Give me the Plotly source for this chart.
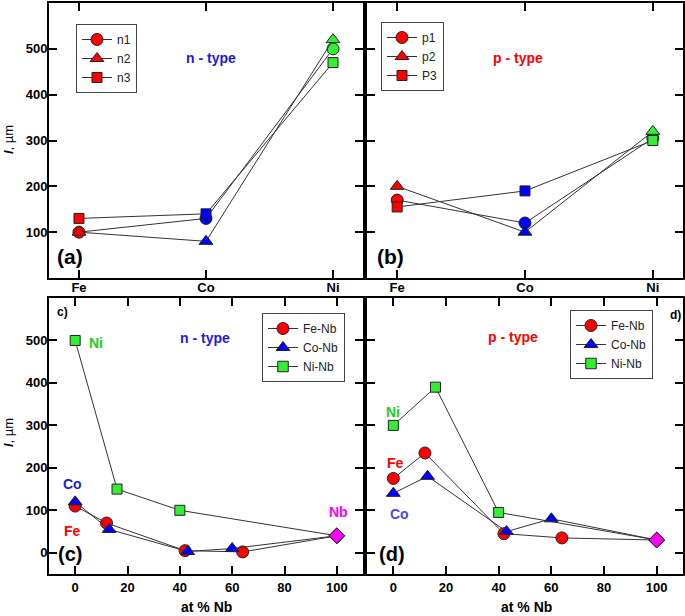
import plotly.graph_objects as go

W, H = 685, 616

RED = "#ff0000"
BLUE = "#0000ff"
GREEN = "#33ee33"
MAGENTA = "#ff00ff"
LINE = "#333333"
FONT = "Liberation Sans, Arial, sans-serif"

# ── Data ──────────────────────────────────────────────────────────────────────
METALS = ["Fe", "Co", "Ni"]
METAL_COLORS = [RED, BLUE, GREEN]

# (a) n-type, l (um) per base metal
N1 = [100, 130, 500]
N2 = [100, 80, 520]
N3 = [130, 140, 470]
# (b) p-type
P1 = [170, 120, 305]
P2 = [200, 100, 320]
P3 = [155, 190, 300]

# (c)/(d) vs at % Nb; every series ends at pure Nb
NB_X = 100
NB_N = 40
NB_P = 30

FE_N_X = [0, 12, 42, 64]
FE_N_Y = [110, 70, 5, 2]
CO_N_X = [0, 13, 43, 60]
CO_N_Y = [120, 55, 3, 10]
NI_N_X = [0, 16, 40]
NI_N_Y = [500, 150, 100]

FE_P_X = [0, 12, 42, 64]
FE_P_Y = [175, 235, 45, 35]
CO_P_X = [0, 13, 43, 60]
CO_P_Y = [140, 180, 50, 80]
NI_P_X = [0, 16, 40]
NI_P_Y = [300, 390, 95]


def px(x):
    return x / W


def py(y):
    return 1 - y / H


def metal_trace(y, name, symbol, size, axis, legend):
    return go.Scatter(
        x=METALS, y=y, name=name, mode="lines+markers",
        xaxis="x" + axis, yaxis="y" + axis, legend=legend,
        line=dict(color=LINE, width=1),
        marker=dict(symbol=symbol, size=size, color=METAL_COLORS, opacity=1,
                    line=dict(color="#222222", width=1)),
    )


def nb_trace(xs, ys, nb_y, name, symbol, size, color, axis, legend):
    n = len(xs)
    return go.Scatter(
        x=xs + [NB_X], y=ys + [nb_y], name=name, mode="lines+markers",
        xaxis="x" + axis, yaxis="y" + axis, legend=legend,
        line=dict(color=LINE, width=1),
        marker=dict(symbol=[symbol] * n + ["diamond"],
                    size=[size] * n + [12], opacity=1,
                    color=[color] * n + [MAGENTA],
                    line=dict(color="#222222", width=1)),
    )


fig = go.Figure()
fig.add_trace(metal_trace(N1, "n1", "circle", 12, "", "legend"))
fig.add_trace(metal_trace(N2, "n2", "triangle-up", 12, "", "legend"))
fig.add_trace(metal_trace(N3, "n3", "square", 10, "", "legend"))
fig.add_trace(metal_trace(P1, "p1", "circle", 12, "2", "legend2"))
fig.add_trace(metal_trace(P2, "p2", "triangle-up", 12, "2", "legend2"))
fig.add_trace(metal_trace(P3, "P3", "square", 10, "2", "legend2"))

fig.add_trace(nb_trace(FE_N_X, FE_N_Y, NB_N, "Fe-Nb", "circle", 12, RED, "3", "legend3"))
fig.add_trace(nb_trace(CO_N_X, CO_N_Y, NB_N, "Co-Nb", "triangle-up", 12, BLUE, "3", "legend3"))
fig.add_trace(nb_trace(NI_N_X, NI_N_Y, NB_N, "Ni-Nb", "square", 10, GREEN, "3", "legend3"))
fig.add_trace(nb_trace(FE_P_X, FE_P_Y, NB_P, "Fe-Nb", "circle", 12, RED, "4", "legend4"))
fig.add_trace(nb_trace(CO_P_X, CO_P_Y, NB_P, "Co-Nb", "triangle-up", 12, BLUE, "4", "legend4"))
fig.add_trace(nb_trace(NI_P_X, NI_P_Y, NB_P, "Ni-Nb", "square", 10, GREEN, "4", "legend4"))

tickfont = dict(family=FONT, size=13, color="black", weight="bold")
frame = dict(showline=True, linecolor="black", linewidth=2, mirror="allticks",
             ticks="inside", ticklen=8, tickwidth=1.5, tickcolor="black",
             showgrid=False, zeroline=False, tickfont=tickfont)

XL = [px(49), px(363)]
XR = [px(367), px(683)]
YT = [py(278), py(3)]
YB = [py(574), py(298)]
TOP_Y = dict(range=[0, 600], tickvals=[100, 200, 300, 400, 500], ticklabelstandoff=-3)
BOT_Y = dict(range=[-50, 600], tickvals=[0, 100, 200, 300, 400, 500], ticklabelstandoff=-3)
TOP_X = dict(type="category", range=[-0.236, 2.236], ticklabelstandoff=-4)
BOT_X = dict(range=[-10, 110], tickvals=[0, 20, 40, 60, 80, 100], ticklabelstandoff=0)


def legend_box(x, y):
    return dict(x=px(x), y=py(y), xanchor="left", yanchor="top",
                bgcolor="white", bordercolor="#444444", borderwidth=1,
                font=dict(family=FONT, size=12, color="#222222"),
                itemwidth=30, tracegroupgap=0)


def label(x, y, text, color="black", size=14, angle=0, weight="bold"):
    return dict(x=px(x), y=py(y), xref="paper", yref="paper", text=text,
                xanchor="center", yanchor="middle", textangle=angle,
                showarrow=False, font=dict(family=FONT, size=size, color=color,
                                           weight=weight))


annotations = [
    label(211, 58, "n - type", "#1a1ae6"),
    label(518, 58, "p - type", RED),
    label(70, 257, "(a)", size=21),
    label(390, 257, "(b)", size=21),
    label(70, 554, "(c)", size=20),
    label(392, 554, "(d)", size=20),
    label(63, 312, "c)", size=12),
    label(675, 315, "d)", size=12),
    label(205, 338, "n - type", "#1a1ae6"),
    label(513, 337, "p - type", RED),
    label(96, 343, "Ni", "#22cc22"),
    label(72, 484, "Co", "#1a1ae6"),
    label(72, 531, "Fe", RED),
    label(338, 512, "Nb", MAGENTA),
    label(393, 412, "Ni", "#22cc22"),
    label(395, 463, "Fe", RED),
    label(400, 514, "Co", "#4a4ae0"),
    label(206, 607, "at % Nb"),
    label(526, 607, "at % Nb"),
    label(8, 140, "<i><b>l</b></i>, µm", size=13, angle=-90, weight="normal"),
    label(8, 433, "<i><b>l</b></i>, µm", size=13, angle=-90, weight="normal"),
]

fig.update_layout(
    width=W, height=H,
    margin=dict(l=0, r=0, t=0, b=0),
    paper_bgcolor="white", plot_bgcolor="white",
    font=dict(family=FONT, size=13, color="black"),
    xaxis=dict(domain=XL, anchor="y", **TOP_X, **frame),
    yaxis=dict(domain=YT, anchor="x", **TOP_Y, **frame),
    xaxis2=dict(domain=XR, anchor="y2", **TOP_X, **frame),
    yaxis2=dict(domain=YT, anchor="x2", showticklabels=False, **TOP_Y, **frame),
    xaxis3=dict(domain=XL, anchor="y3", **BOT_X, **frame),
    yaxis3=dict(domain=YB, anchor="x3", **BOT_Y, **frame),
    xaxis4=dict(domain=XR, anchor="y4", **BOT_X, **frame),
    yaxis4=dict(domain=YB, anchor="x4", showticklabels=False, **BOT_Y, **frame),
    legend=legend_box(76, 24),
    legend2=legend_box(381, 22),
    legend3=legend_box(262, 313),
    legend4=legend_box(570, 310),
    annotations=annotations,
)

# page body has an 8px default margin; drop it so the figure sits at 0,0
fig.write_html("out.html", config={"displayModeBar": False},
               post_script="document.body.style.margin='0';")
